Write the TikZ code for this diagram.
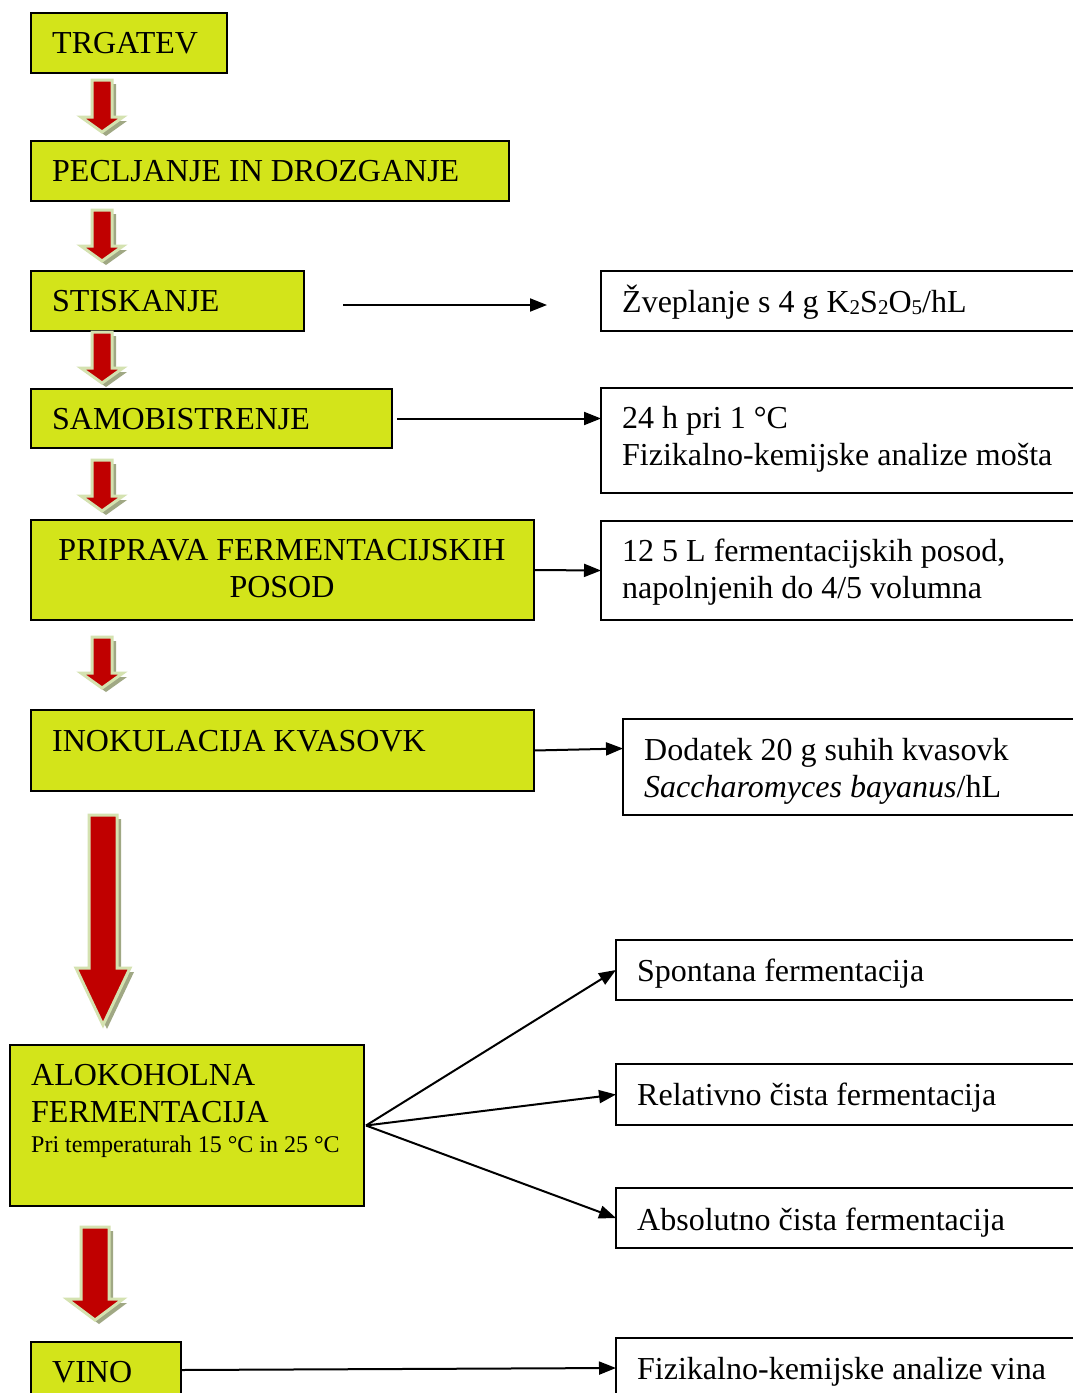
\documentclass[tikz,border=0pt]{standalone}
\usepackage{fontspec}
\setmainfont{Liberation Serif}
\usetikzlibrary{arrows.meta}
\definecolor{boxgreen}{RGB}{211,228,26}
\definecolor{arrred}{RGB}{192,0,0}
\definecolor{arredge}{RGB}{212,226,176}
\definecolor{arrshadow}{RGB}{160,168,132}
\newcommand\lowsub[1]{\raisebox{-2pt}{\fontsize{21}{21}\selectfont #1}}
\tikzset{
  gbox/.style={draw=black, line width=2pt, fill=boxgreen, rectangle, inner sep=0pt, outer sep=0pt, anchor=north west},
  wbox/.style={draw=black, line width=2pt, fill=white, rectangle, inner sep=0pt, outer sep=0pt, anchor=north west},
  lbl/.style={anchor=base west, inner sep=0pt, font=\fontsize{32}{37}\selectfont},
  clbl/.style={anchor=base, inner sep=0pt, font=\fontsize{32}{37}\selectfont},
  slbl/.style={anchor=base west, inner sep=0pt, font=\fontsize{24}{28}\selectfont},
  conn/.style={draw=black, line width=2pt, -{Triangle[length=17pt,width=13pt]}}
}
% block arrow: cx, top, headstart, tip, half shaft, half head
\newcommand\blockarr[6]{%
  \fill[arrshadow] ({#1-#5+4},{#2+4}) -- ({#1+#5+4},{#2+4}) -- ({#1+#5+4},{#3+4}) -- ({#1+#6+4},{#3+4}) -- ({#1+4},{#4+4}) -- ({#1-#6+4},{#3+4}) -- ({#1-#5+4},{#3+4}) -- cycle;
  \filldraw[fill=arrred, draw=arredge, line width=3pt, line join=miter] ({#1-#5},#2) -- ({#1+#5},#2) -- ({#1+#5},#3) -- ({#1+#6},#3) -- (#1,#4) -- ({#1-#6},#3) -- ({#1-#5},#3) -- cycle;}
\begin{document}
\begin{tikzpicture}[x=1pt,y=-1pt]
\useasboundingbox (0,0) rectangle (1073,1393);
\clip (0,0) rectangle (1073,1393);
\fill[white] (0,0) rectangle (1073,1393);
% left boxes
\node[gbox, minimum width=196pt, minimum height=60pt] (trg) at (31,13) {};
\node[gbox, minimum width=478pt, minimum height=60pt] (pec) at (31,141) {};
\node[gbox, minimum width=273pt, minimum height=60pt] (sti) at (31,271) {};
\node[gbox, minimum width=361pt, minimum height=59pt] (sam) at (31,389) {};
\node[gbox, minimum width=503pt, minimum height=100pt] (pri) at (31,520) {};
\node[gbox, minimum width=503pt, minimum height=81pt] (ino) at (31,710) {};
\node[gbox, minimum width=354pt, minimum height=161pt] (alk) at (10,1045) {};
\node[gbox, minimum width=150pt, minimum height=56pt] (vin) at (31,1342) {};
% right boxes
\node[wbox, minimum width=489pt, minimum height=60pt] (r1) at (601,271) {};
\node[wbox, minimum width=489pt, minimum height=105pt] (r2) at (601,388) {};
\node[wbox, minimum width=489pt, minimum height=99pt] (r3) at (601,521) {};
\node[wbox, minimum width=467pt, minimum height=96pt] (r4) at (623,719) {};
\node[wbox, minimum width=474pt, minimum height=60pt] (sp) at (616,940) {};
\node[wbox, minimum width=474pt, minimum height=61pt] (rel) at (616,1064) {};
\node[wbox, minimum width=474pt, minimum height=60pt] (abs) at (616,1188) {};
\node[wbox, minimum width=474pt, minimum height=60pt] (fiz) at (616,1338) {};
% labels
\node[lbl] (t1) at (52,53) {TRGATEV};
\node[lbl] (t2) at (52,181) {PECLJANJE IN DROZGANJE};
\node[lbl] (t3) at (52,311) {STISKANJE};
\node[lbl] (t4) at (52,429) {SAMOBISTRENJE};
\node[clbl] (t5a) at (282,560) {PRIPRAVA FERMENTACIJSKIH};
\node[clbl] (t5b) at (282,597) {POSOD};
\node[lbl] (t6) at (52,751) {INOKULACIJA KVASOVK};
\node[lbl] (t7a) at (31,1085) {ALOKOHOLNA};
\node[lbl] (t7b) at (31,1122) {FERMENTACIJA};
\node[slbl] (t7c) at (31,1152) {Pri temperaturah 15 °C in 25 °C};
\node[lbl] (t8) at (52,1382) {VINO};
\node[lbl] (u1) at (622,312) {Žveplanje s 4 g K\lowsub{2}S\lowsub{2}O\lowsub{5}/hL};
\node[lbl] (u2a) at (622,428) {24 h pri 1 °C};
\node[lbl] (u2b) at (622,465) {Fizikalno-kemijske analize mošta};
\node[lbl] (u3a) at (622,561) {12 5 L fermentacijskih posod,};
\node[lbl] (u3b) at (622,598) {napolnjenih do 4/5 volumna};
\node[lbl] (u4a) at (644,760) {Dodatek 20 g suhih kvasovk};
\node[lbl] (u4b) at (644,797) {\textit{Saccharomyces bayanus}/hL};
\node[lbl] (u5) at (637,981) {Spontana fermentacija};
\node[lbl] (u6) at (637,1105) {Relativno čista fermentacija};
\node[lbl] (u7) at (637,1230) {Absolutno čista fermentacija};
\node[lbl] (u8) at (637,1379) {Fizikalno-kemijske analize vina};
% connectors
\coordinate (s1) at (343,305);
\coordinate (s2) at (547,305);
\draw[conn] (s1) -- (s2);
\draw[conn] ([xshift=5pt]sam.east) -- (sam.east -| r2.west);
\draw[conn] (pri.east) -- (r3.west);
\draw[conn] (ino.east) -- ([yshift=2pt]ino.east -| r4.west);
\draw[conn] ([xshift=2pt]alk.east) -- (sp.west);
\draw[conn] ([xshift=2pt]alk.east) -- (rel.west);
\draw[conn] ([xshift=2pt]alk.east) -- (abs.west);
\draw[conn] (vin.east) -- ([yshift=2pt]vin.east -| fiz.west);
% block arrows
\blockarr{102}{80}{117}{132}{10}{21}
\blockarr{102}{210}{246}{261}{10}{21}
\blockarr{102}{332}{368}{383}{10}{21}
\blockarr{102}{460}{496}{511}{10}{21}
\blockarr{102}{637}{673}{688}{10}{21}
\blockarr{103}{815}{968}{1025}{14}{27}
\blockarr{95}{1227}{1299}{1320}{14}{28}
\end{tikzpicture}
\end{document}
